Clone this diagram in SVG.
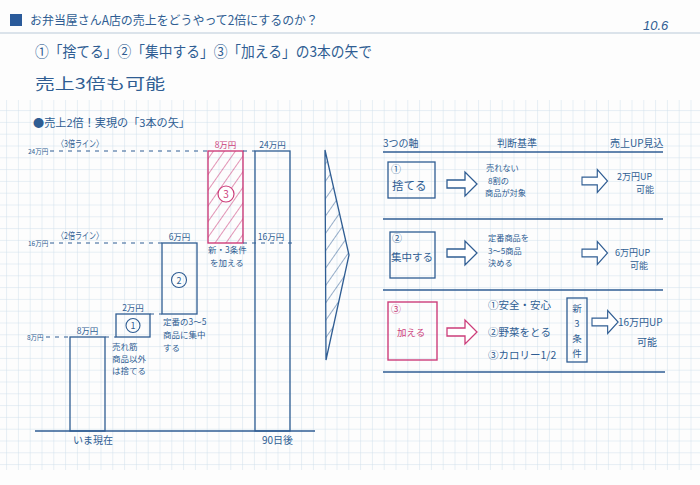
<svg xmlns="http://www.w3.org/2000/svg" width="700" height="485" viewBox="0 0 700 485">
<style>
  text { font-family: "Noto Sans CJK JP", "Noto Sans", sans-serif; fill: #2f5d93; }
  .pk { fill: #cc3d7a; }
  .bar { fill: none; stroke: #2f5d93; stroke-width: 1.3; }
  .pbar { fill: url(#hatch); stroke: #cc3d7a; stroke-width: 1.4; }
  .dot { stroke: #2f5d93; stroke-width: 1; stroke-dasharray: 4 5; fill: none; }
  .ln { stroke: #2f5d93; stroke-width: 1.4; fill: none; }
  .arr { fill: #fff; stroke: #2f5d93; stroke-width: 1.3; }
  .parr { fill: #fff; stroke: #cc3d7a; stroke-width: 1.3; }
  .s8 { font-size: 8.5px; }
  .s10 { font-size: 10px; }
  .crit { font-size: 8.2px; }
  .vert { font-size: 9.5px; }
</style>
<defs>
  <pattern id="grid" patternUnits="userSpaceOnUse" x="6.1" y="3.9" width="11.8" height="11.8">
    <path d="M0,0 H11.8 M0,0 V11.8" stroke="#cfdfeb" stroke-width="1" fill="none"/>
  </pattern>
  <pattern id="hatch" patternUnits="userSpaceOnUse" width="9" height="9" patternTransform="rotate(-55)">
    <path d="M0,0 H9" stroke="#cc3d7a" stroke-width="1.1"/>
  </pattern>
  <pattern id="hatchb" patternUnits="userSpaceOnUse" width="10" height="10" patternTransform="rotate(-55)">
    <path d="M0,0 H10" stroke="#2f5d93" stroke-width="1"/>
  </pattern>
  <path id="blk" d="M0,-4 H18 V-12 L30,0 L18,12 V4 H0 Z"/>
</defs>

<rect width="700" height="485" fill="#fdfdfd"/>
<rect x="0" y="100" width="700" height="370" fill="url(#grid)"/>

<g id="header">
  <rect x="10" y="14" width="12" height="12" fill="#2a5a9a"/>
  <text x="30" y="25" font-size="12.5" textLength="288" lengthAdjust="spacingAndGlyphs">お弁当屋さんA店の売上をどうやって2倍にするのか？</text>
  <text x="643" y="30" font-size="13" font-style="italic" style="font-family:'Liberation Sans',sans-serif">10.6</text>
  <line x1="0" y1="33" x2="700" y2="33" stroke="#b9c9d8" stroke-width="1"/>
  <text x="35" y="57" font-size="15" textLength="337" lengthAdjust="spacingAndGlyphs">①「捨てる」②「集中する」③「加える」の3本の矢で</text>
  <text x="35" y="89" font-size="15" textLength="130" lengthAdjust="spacingAndGlyphs">売上3倍も可能</text>
</g>

<g id="chart-title">
  <text x="33" y="127" font-size="11" textLength="157" lengthAdjust="spacingAndGlyphs">●売上2倍！実現の「3本の矢」</text>
</g>

<g id="axis-labels">
  <text x="28" y="154" font-size="6.5">24万円</text>
  <text x="57" y="147" font-size="9.5" textLength="46" lengthAdjust="spacingAndGlyphs">〈3倍ライン〉</text>
  <text x="28" y="246" font-size="6.5">16万円</text>
  <text x="57" y="239" font-size="9.5" textLength="46" lengthAdjust="spacingAndGlyphs">〈2倍ライン〉</text>
  <text x="27" y="340" font-size="6.5">8万円</text>
</g>

<g id="bar-now">
  <rect class="bar" x="70" y="337" width="35" height="94"/>
  <text class="s8" x="87.5" y="334" text-anchor="middle">8万円</text>
  <text x="73" y="444" font-size="10">いま現在</text>
</g>

<g id="bar-1">
  <rect class="bar" x="116" y="314" width="34" height="23"/>
  <text class="s8" x="133" y="311" text-anchor="middle">2万円</text>
  <circle cx="133" cy="325.5" r="7" fill="none" stroke="#2f5d93" stroke-width="1.1"/>
  <text x="133" y="329" font-size="9" text-anchor="middle">1</text>
  <text class="s8" x="112" y="350">売れ筋</text>
  <text class="s8" x="112" y="362">商品以外</text>
  <text class="s8" x="112" y="374">は捨てる</text>
</g>

<g id="bar-2">
  <rect class="bar" x="162" y="243" width="35" height="71"/>
  <text class="s8" x="179.5" y="240" text-anchor="middle">6万円</text>
  <circle cx="179" cy="280" r="7.5" fill="none" stroke="#2f5d93" stroke-width="1.1"/>
  <text x="179" y="283.5" font-size="9" text-anchor="middle">2</text>
  <text class="s8" x="163" y="325">定番の3〜5</text>
  <text class="s8" x="163" y="338">商品に集中</text>
  <text class="s8" x="163" y="351">する</text>
</g>

<g id="bar-3">
  <rect class="pbar" x="208" y="151" width="35" height="92"/>
  <text class="s8 pk" x="225.5" y="148" text-anchor="middle">8万円</text>
  <circle cx="226" cy="194" r="8" fill="#fff" stroke="#cc3d7a" stroke-width="1.2"/>
  <text class="pk" x="226" y="198" font-size="10" text-anchor="middle">3</text>
  <text class="s8" x="208" y="253">新・3条件</text>
  <text class="s8" x="210" y="266">を加える</text>
</g>

<g id="bar-90days">
  <rect class="bar" x="255" y="151" width="35" height="280"/>
  <text class="s8" x="272.5" y="148" text-anchor="middle">24万円</text>
  <text class="s8" x="271" y="240" text-anchor="middle">16万円</text>
  <text x="262" y="444" font-size="10">90日後</text>
</g>

<g id="connectors">
  <line class="dot" x1="50" y1="151" x2="208" y2="151"/>
  <line class="dot" x1="243" y1="151" x2="255" y2="151"/>
  <line class="dot" x1="50" y1="243" x2="162" y2="243"/>
  <line class="dot" x1="243" y1="243" x2="292" y2="243"/>
  <line class="dot" x1="46" y1="337" x2="70" y2="337"/>
  <line class="dot" x1="105" y1="337" x2="116" y2="337"/>
  <line class="dot" x1="150" y1="314" x2="162" y2="314"/>
  <line class="ln" x1="35" y1="431" x2="315" y2="431"/>
  <polygon points="325,150 349,255 326,360" fill="url(#hatchb)" stroke="#2f5d93" stroke-width="1.3"/>
  <line class="ln" x1="383" y1="152" x2="663" y2="152" stroke-width="2"/>
  <line class="ln" x1="383" y1="219" x2="663" y2="219" stroke-width="1.8"/>
  <line class="ln" x1="383" y1="290" x2="663" y2="290" stroke-width="1.8"/>
  <line class="ln" x1="383" y1="372" x2="665" y2="372" stroke-width="1.8"/>
  <use href="#blk" class="arr" transform="translate(447,184)"/>
  <use href="#blk" class="arr" transform="translate(582,181) scale(0.85,0.95)"/>
  <use href="#blk" class="arr" transform="translate(447,253)"/>
  <use href="#blk" class="arr" transform="translate(582,253) scale(0.85,0.95)"/>
  <use href="#blk" class="parr" transform="translate(447,332)"/>
  <use href="#blk" class="arr" transform="translate(592,322) scale(0.87,0.95)"/>
</g>

<g id="table-header">
  <text class="s10" x="383" y="147">3つの軸</text>
  <text class="s10" x="497" y="147">判断基準</text>
  <text class="s10" x="610" y="147">売上UP見込</text>
</g>

<g id="row-1">
  <rect class="bar" x="388" y="162" width="47" height="36"/>
  <text x="391" y="173" font-size="10">①</text>
  <text x="392" y="190" font-size="11.5">捨てる</text>
  <text class="crit" x="486" y="171">売れない</text>
  <text class="crit" x="488" y="183.5">8割の</text>
  <text class="crit" x="485" y="196">商品が対象</text>
  <text x="617" y="180" font-size="9">2万円UP</text>
  <text x="636" y="193" font-size="9">可能</text>
</g>

<g id="row-2">
  <rect class="bar" x="390" y="232" width="45" height="46"/>
  <text x="392" y="242" font-size="10">②</text>
  <text x="391" y="261" font-size="10.5">集中する</text>
  <text class="crit" x="488" y="241">定番商品を</text>
  <text class="crit" x="488" y="253.5">3〜5商品</text>
  <text class="crit" x="488" y="266">決める</text>
  <text x="615" y="256" font-size="9">6万円UP</text>
  <text x="630" y="269" font-size="9">可能</text>
</g>

<g id="row-3">
  <rect x="388" y="302" width="49" height="58" fill="none" stroke="#cc3d7a" stroke-width="1.4"/>
  <text class="pk" x="391" y="313" font-size="10">③</text>
  <text class="pk" x="397" y="336" font-size="9.5">加える</text>
  <text x="488" y="309" font-size="10.5">①安全・安心</text>
  <text x="488" y="336" font-size="10.5">②野菜をとる</text>
  <text x="488" y="359" font-size="10.5">③カロリー1/2</text>
  <rect class="bar" x="567" y="298" width="20" height="64"/>
  <text class="vert" x="577" y="312" text-anchor="middle">新</text>
  <text class="vert" x="577" y="327" text-anchor="middle">3</text>
  <text class="vert" x="577" y="342" text-anchor="middle">条</text>
  <text class="vert" x="577" y="357" text-anchor="middle">件</text>
  <text x="618" y="326" font-size="10">16万円UP</text>
  <text x="637" y="346" font-size="10">可能</text>
</g>
</svg>
